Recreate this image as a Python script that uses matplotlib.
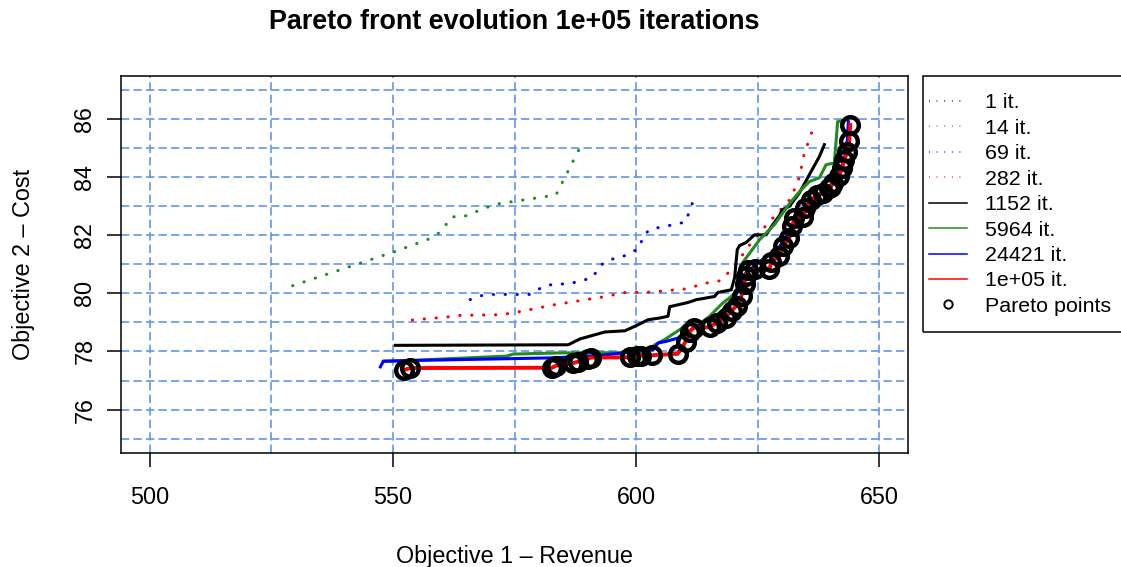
import matplotlib
matplotlib.use("Agg")
import matplotlib.pyplot as plt
from matplotlib.lines import Line2D
from matplotlib.patches import Rectangle

plt.rcParams['font.family'] = ['Liberation Sans', 'DejaVu Sans']

# Pareto fronts at several iteration counts (revenue, cost)
it1_rev = [588.0]
it1_cost = [85.3]

it14_rev = [529.35, 550.48, 557.46, 559.51, 560.95, 561.98, 564.44, 569.10, 571.42,
            576.14, 583.52, 589.06]
it14_cost = [80.26, 81.44, 81.87, 82.08, 82.37, 82.63, 82.63, 82.94, 83.07,
             83.19, 83.38, 85.21]

it69_rev = [565.87, 568.23, 570.59, 578.08, 579.83, 581.57, 584.03, 586.46, 588.86,
            591.18, 592.45, 594.34, 596.72, 598.98, 600.82, 601.38, 603.02, 605.42,
            610.20, 611.02, 611.90]
it69_cost = [79.78, 79.92, 79.96, 79.96, 80.13, 80.28, 80.31, 80.34, 80.43,
             80.56, 80.93, 81.15, 81.23, 81.38, 81.59, 81.98, 82.21, 82.28,
             82.45, 82.85, 83.24]

it282_rev = [553.97, 561.36, 563.82, 571.21, 573.67, 576.07, 583.32, 588.18, 593.02,
             597.89, 602.81, 610.20, 612.52, 614.92, 617.32, 620.05, 624.42, 631.75,
             633.59, 634.56, 636.20]
it282_cost = [79.08, 79.19, 79.24, 79.26, 79.30, 79.37, 79.61, 79.74, 79.87,
              80.03, 80.04, 80.15, 80.26, 80.37, 80.43, 80.89, 81.91, 83.24,
              83.99, 84.79, 85.56]

it1152_rev = [550.48, 586.05, 588.45, 593.58, 597.68, 600.08, 602.46, 604.86, 606.57,
              606.92, 610.61, 612.40, 616.15, 616.83, 619.58, 620.26, 620.81, 621.28,
              622.66, 624.36, 626.76, 628.11, 629.49, 630.04, 631.54, 633.59, 635.65,
              637.70, 638.73]
it1152_cost = [78.21, 78.23, 78.43, 78.67, 78.71, 78.89, 79.09, 79.15, 79.21,
               79.54, 79.68, 79.78, 79.89, 80.03, 80.12, 80.53, 81.50, 81.64,
               81.75, 82.01, 82.01, 82.36, 82.67, 82.87, 82.99, 83.45, 84.08,
               84.70, 85.11]

it5964_rev = [548.02, 573.40, 574.70, 584.34, 602.13, 603.84, 605.89, 608.97, 611.02,
              613.75, 615.12, 617.85, 619.58, 620.60, 621.28, 621.90, 625.39, 628.46,
              631.54, 633.59, 635.65, 637.70, 639.08, 640.78, 641.46, 643.51]
it5964_cost = [77.65, 77.84, 77.91, 77.95, 77.96, 78.23, 78.41, 78.75, 78.98,
               79.03, 79.21, 79.67, 79.89, 80.07, 80.35, 81.05, 81.84, 82.36,
               83.08, 83.49, 83.84, 83.97, 84.42, 84.48, 85.90, 85.97]

it24421_rev = [547.40, 548.02, 582.90, 592.55, 599.32, 603.49, 604.51, 606.24, 608.62,
               610.95, 614.03, 617.11, 620.19, 622.24, 625.39, 629.08, 631.54, 634.62,
               638.11, 640.78, 642.84, 643.45, 643.66]
it24421_cost = [77.47, 77.67, 77.78, 77.86, 77.99, 78.06, 78.29, 78.35, 78.46,
                78.71, 79.02, 79.30, 79.78, 80.64, 81.09, 81.50, 82.12, 82.74,
                83.46, 83.84, 84.59, 85.28, 85.90]

# final front (1e+05 iterations) = Pareto points
pareto_rev = [552.23, 553.56, 582.70, 583.52, 587.01, 588.04, 590.09, 590.70, 598.71,
              600.14, 600.96, 603.22, 608.56, 610.20, 611.02, 611.84, 615.12, 616.56,
              618.41, 619.64, 620.67, 621.69, 622.31, 622.51, 622.92, 624.36, 627.44,
              627.85, 629.49, 630.31, 631.54, 632.16, 632.57, 634.42, 634.83, 636.06,
              637.29, 638.52, 639.75, 640.10, 640.57, 641.80, 642.42, 642.83, 643.45,
              643.86, 644.06]
pareto_cost = [77.36, 77.43, 77.44, 77.51, 77.60, 77.65, 77.75, 77.79, 77.80,
               77.84, 77.86, 77.87, 77.92, 78.34, 78.68, 78.82, 78.83, 78.99,
               79.16, 79.40, 79.57, 79.92, 80.33, 80.60, 80.81, 80.82, 80.83,
               81.09, 81.29, 81.64, 81.91, 82.32, 82.60, 82.63, 82.94, 83.22,
               83.39, 83.46, 83.63, 83.67, 83.80, 84.04, 84.32, 84.59, 84.87,
               85.24, 85.79]

labels = ["1 it.", "14 it.", "69 it.", "282 it.", "1152 it.", "5964 it.",
          "24421 it.", "1e+05 it.", "Pareto points"]
colors = ["black", "#228B22", "blue", "red", "black", "#228B22", "blue", "red"]

fig = plt.figure(figsize=(11.21, 5.67), dpi=100)
ax = fig.add_axes([0.1077, 0.2016, 0.7026, 0.6649])

# grid
grid_kw = dict(color="#6495ED", lw=1.2, linestyle=(0, (5, 2.5)), zorder=0)
for gx in range(500, 651, 25):
    ax.axvline(gx, **grid_kw)
for gy in range(75, 88):
    ax.axhline(gy, **grid_kw)

dotted = (0, (0.1, 3.8))
series = [(it1_rev, it1_cost), (it14_rev, it14_cost), (it69_rev, it69_cost),
          (it282_rev, it282_cost)]
for (xs, ys), c in zip(series, colors[:4]):
    ax.plot(xs, ys, color=c, lw=2.2, linestyle=dotted, dash_capstyle="round")

ax.plot(it1152_rev, it1152_cost, color="black", lw=2.2)
ax.plot(it5964_rev, it5964_cost, color="#228B22", lw=2.2)
ax.plot(it24421_rev, it24421_cost, color="blue", lw=2.2)
ax.plot(pareto_rev, pareto_cost, color="red", lw=2.8)
ax.plot(pareto_rev, pareto_cost, linestyle="none", marker="o", ms=12,
        mfc="none", mec="black", mew=3.2)

ax.set_xlim(500 - 150 * 0.04, 650 + 150 * 0.04)
ax.set_ylim(75 - 12 * 0.04, 87 + 12 * 0.04)
ax.set_xticks([500, 550, 600, 650])
ax.set_yticks([76, 78, 80, 82, 84, 86])
for s in ax.spines.values():
    s.set_linewidth(1.1)
ax.tick_params(direction="out", length=10, width=1.1, labelsize=16.8, pad=14)
ax.tick_params(axis="y", labelrotation=90, pad=7.5)
for t in ax.get_yticklabels():
    t.set_va("center")

ax.set_xlabel("Objective 1 \u2013 Revenue", fontsize=16.8)
ax.xaxis.label.set_va("baseline")
ax.xaxis.set_label_coords(0.5, -0.2934)
ax.set_ylabel("Objective 2 \u2013 Cost", fontsize=16.8)
ax.yaxis.label.set_va("baseline")
ax.yaxis.set_label_coords(-0.1156, 0.5)

fig.text(0.4589, 1 - 29 / 567, "Pareto front evolution 1e+05 iterations",
         ha="center", va="baseline", fontsize=19.4, fontweight="bold")

# legend
handles = []
for i, c in enumerate(colors):
    ls = (0, (0.5, 4.5)) if i < 4 else "-"
    handles.append(Line2D([], [], color=c, lw=1.1, linestyle=ls))
handles.append(Line2D([], [], linestyle="none", marker="o", ms=6, mfc="none",
                      mec="black", mew=1.4))
fig.legend(handles, labels, loc="upper left", bbox_to_anchor=(929 / 1121, 1 - 93.5 / 567),
           frameon=False, fontsize=15.4, handlelength=1.78, handletextpad=0.84,
           borderpad=0, borderaxespad=0, labelspacing=0.30)
fig.patches.append(Rectangle((922.7 / 1121, 1 - 332 / 567), 0.3, (332 - 75.7) / 567,
                             transform=fig.transFigure, fill=False, ec="black", lw=1.1))

fig.savefig("out.png", dpi=100)
